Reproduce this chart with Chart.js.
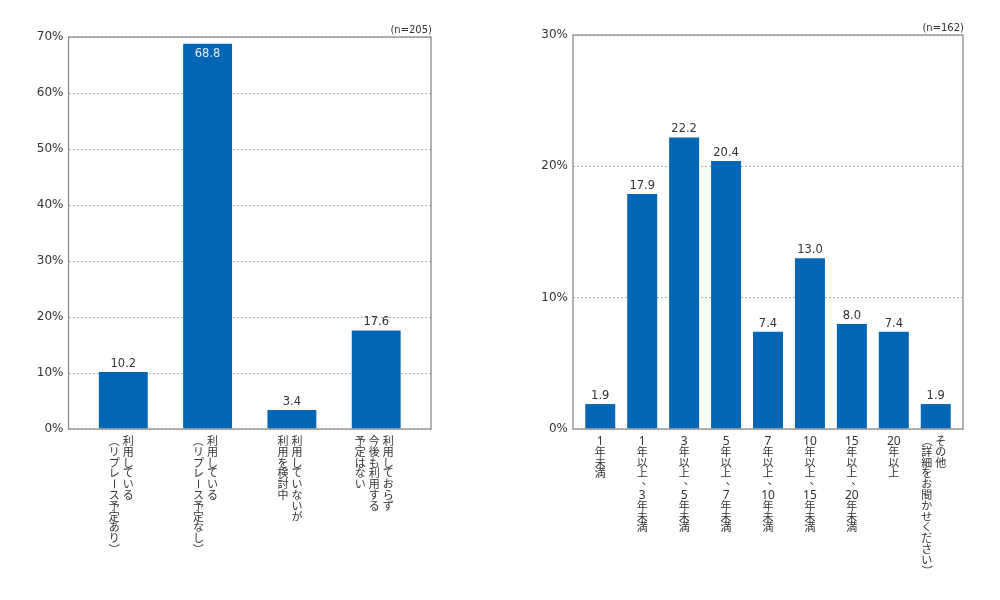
<!DOCTYPE html>
<html lang="ja">
<head>
<meta charset="utf-8">
<script src="https://cdn.jsdelivr.net/npm/chart.js@4.4.1/dist/chart.umd.min.js"></script>
<style>
  html, body { margin: 0; padding: 0; background: #fff; }
  #wrap { position: relative; width: 1000px; height: 600px; }
  #left, #right { position: absolute; top: 0; }
  #left { left: 0; }
  #right { left: 500px; }
</style>
</head>
<body>
<div id="wrap">
  <canvas id="left" width="500" height="600"></canvas>
  <canvas id="right" width="500" height="600"></canvas>
</div>
<script>
// --- data: left chart (n=205) ---
const leftCategories = [
  ['利用している', '（リプレース予定あり）'],
  ['利用している', '（リプレース予定なし）'],
  ['利用していないが', '利用を検討中'],
  ['利用しておらず', '今後も利用する', '予定はない']
];
const leftValues = [10.2, 68.8, 3.4, 17.6];
const leftMax = 70;
const leftNote = '(n=205)';

// --- data: right chart (n=162) ---
const rightCategories = [
  ['1年未満'],
  ['1年以上、3年未満'],
  ['3年以上、5年未満'],
  ['5年以上、7年未満'],
  ['7年以上、10年未満'],
  ['10年以上、15年未満'],
  ['15年以上、20年未満'],
  ['20年以上'],
  ['その他', '（詳細をお聞かせください）']
];
const rightValues = [1.9, 17.9, 22.2, 20.4, 7.4, 13.0, 8.0, 7.4, 1.9];
const rightMax = 30;
const rightNote = '(n=162)';

const BAR_COLOR = '#0366b5';
const TEXT_COLOR = '#333333';
const NUM_FONT = '"DejaVu Sans", sans-serif';
const JP_FONT = '"Noto Sans CJK JP", sans-serif';
const DIGIT_FONT = '"Noto Sans", sans-serif';

// 縦書きラベル用: 数字の連続は1マス(縦中横)
function toCells(str) {
  return str.match(/[0-9]+|./gu) || [];
}

const ROTATE_CHARS = 'ー（）－';

// frame, value labels, vertical category labels, n note
const decorPlugin = {
  id: 'decor',
  afterDraw(chart, args, opts) {
    const ctx = chart.ctx;
    const area = chart.chartArea;
    const meta = chart.getDatasetMeta(0);

    ctx.save();
    ctx.strokeStyle = '#8c8c8c';
    ctx.lineWidth = 1.3;
    ctx.strokeRect(area.left, area.top, area.right - area.left, area.bottom - area.top);

    // value labels
    ctx.font = '11.5px ' + NUM_FONT;
    ctx.textAlign = 'center';
    meta.data.forEach((bar, i) => {
      const txt = opts.values[i].toFixed(1);
      if (bar.y - 18 < area.top) {
        ctx.fillStyle = '#e3ecf7';
        ctx.textBaseline = 'middle';
        ctx.fillText(txt, bar.x, bar.y + 10);
      } else {
        ctx.fillStyle = TEXT_COLOR;
        ctx.textBaseline = 'alphabetic';
        ctx.fillText(txt, bar.x, bar.y - 5);
      }
    });

    // vertical category labels (columns right to left)
    const pitch = 10.8;
    const colGap = 14;
    ctx.fillStyle = TEXT_COLOR;
    ctx.textBaseline = 'middle';
    meta.data.forEach((bar, i) => {
      const cols = opts.categories[i];
      const n = cols.length;
      cols.forEach((line, c) => {
        const cx = bar.x + ((n - 1) / 2 - c) * colGap - (n > 1 ? 2 : 0);
        toCells(line).forEach((ch, k) => {
          const cy = area.bottom + 6.5 + (k + 0.5) * pitch;
          ctx.font = '11px ' + JP_FONT;
          if (ROTATE_CHARS.includes(ch)) {
            ctx.save();
            ctx.translate(cx, cy);
            ctx.rotate(Math.PI / 2);
            ctx.fillText(ch, 0, 0);
            ctx.restore();
          } else if (ch === '、') {
            ctx.fillText(ch, cx + 5, cy - 4);
          } else if (/^[0-9]+$/.test(ch)) {
            ctx.font = '12px ' + DIGIT_FONT;
            ctx.fillText(ch, cx, cy + 0.5);
          } else {
            ctx.fillText(ch, cx, cy);
          }
        });
      });
    });

    // n note
    ctx.font = '10px ' + NUM_FONT;
    ctx.textAlign = 'right';
    ctx.textBaseline = 'alphabetic';
    ctx.fillText(opts.note, area.right + 1, area.top - 4);
    ctx.restore();
  }
};

function makeChart(canvasId, categories, values, maxY, note, pad, axisWidth, barPct) {
  const ctx = document.getElementById(canvasId).getContext('2d');
  return new Chart(ctx, {
    type: 'bar',
    data: {
      datasets: [{
        data: values.map((v, i) => ({ x: i, y: v })),
        backgroundColor: BAR_COLOR,
        borderWidth: 0,
        barPercentage: barPct,
        categoryPercentage: 1
      }]
    },
    options: {
      responsive: false,
      animation: false,
      layout: { padding: pad },
      plugins: {
        legend: { display: false },
        tooltip: { enabled: false },
        decor: { categories: categories, values: values, note: note }
      },
      scales: {
        x: {
          type: 'linear',
          display: false,
          offset: false,
          min: -0.65,
          max: values.length - 1 + 0.65,
          ticks: { stepSize: 1, includeBounds: false }
        },
        y: {
          min: 0,
          max: maxY,
          afterFit: (s) => { s.width = axisWidth; },
          ticks: {
            stepSize: 10,
            padding: 5,
            color: TEXT_COLOR,
            font: { family: NUM_FONT, size: 12 },
            callback: (v) => v + '%'
          },
          grid: { color: '#b4b4b4', lineWidth: 1, drawTicks: false },
          border: { display: false, dash: [2, 2] }
        }
      }
    },
    plugins: [decorPlugin]
  });
}

makeChart('left', leftCategories, leftValues, leftMax, leftNote,
  { left: 0, right: 69, top: 37, bottom: 171 }, 68.5, 0.58);
makeChart('right', rightCategories, rightValues, rightMax, rightNote,
  { left: 0, right: 37, top: 35, bottom: 171 }, 73, 0.715);
</script>
</body>
</html>
